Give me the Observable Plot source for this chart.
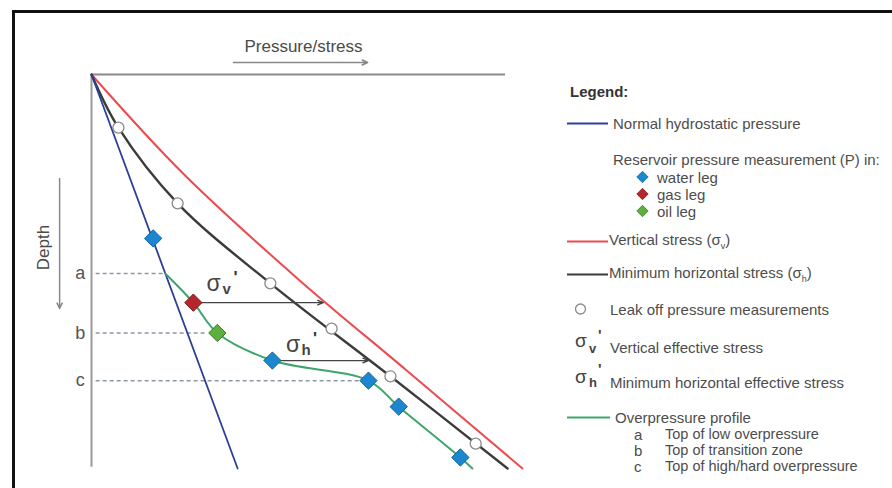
<!DOCTYPE html>
<html>
<head>
<meta charset="utf-8">
<script src="https://cdn.jsdelivr.net/npm/d3@7"></script>
<script src="https://cdn.jsdelivr.net/npm/@observablehq/plot@0.6"></script>
<style>
  html, body { margin: 0; padding: 0; background: #fff; overflow: hidden; }
  body { width: 892px; height: 488px; position: relative; font-family: "Liberation Sans", Arial, sans-serif; }
  #frame { position: absolute; left: 12px; top: 10px; width: 900px; height: 520px; border: 3px solid #111; box-sizing: border-box; }
  #chart { position: absolute; left: 0; top: 0; }
  #legend { position: absolute; left: 0; top: 0; width: 892px; height: 488px; }
  .row { position: absolute; display: flex; align-items: center; white-space: nowrap; font-size: 15px; line-height: 1; color: #4d4d4d; transform: translateY(-50%); }
  .row svg { display: block; }
  .sig { font-size: 19px; color: #444; }
  .sub { font-size: 13px; font-weight: bold; color: #444; }
</style>
</head>
<body>
<div id="frame"></div>
<div id="chart"></div>
<div id="legend"></div>
<script>
// ---------------- data (pressure / depth in schematic units, 0..100) ----------------
const hydroPressure = [0, 35.3];
const hydroDepth    = [0, 100];

const sigmaVPressure = [0, 22, 50, 76, 104.1];
const sigmaVDepth    = [0, 25, 52, 75, 100];

const sigmaHPressure = [0, 6.5, 20.8, 43.2, 72.2, 100.5];
const sigmaHDepth    = [0, 13.5, 32.7, 53, 76.6, 100];

const leakOffPressure = [6.5, 20.8, 43.2, 58.0, 72.2, 92.8];
const leakOffDepth    = [13.5, 32.7, 53.0, 64.5, 76.6, 93.7];

const overPressure      = [17.8, 24.6, 30.4, 43.7, 66.9, 74.2, 89.1, 92];
const overPressureDepth = [50.5, 57.9, 65.6, 72.6, 77.7, 84.3, 97.2, 100];

const waterPressure = [14.9, 43.7, 66.9, 74.2, 89.1];
const waterDepth    = [41.6, 72.6, 77.7, 84.3, 97.2];
const gasPressure   = [24.6];
const gasDepth      = [57.9];
const oilPressure   = [30.4];
const oilDepth      = [65.6];

const markerLabels   = ["a", "b", "c"];
const markerDepth    = [50.5, 65.6, 77.7];
const markerEnd      = [17.8, 27.8, 64.6];
const markerLabelPos = -2.7;

const effLabels     = ["v", "h"];
const effStart      = [24.6, 43.7];
const effEnd        = [56.0, 66.9];
const effDepth      = [57.9, 72.6];
const effLabelP     = [29.5, 48.7];
const effLabelD     = [53.0, 68.5];

const axisPressureMax = 100;
const axisDepthMax    = 99.7;

const xTitle = "Pressure/stress";
const xTitlePos = {p: 51.2, d: -7.1};
const xArrow = {p1: 34.3, p2: 66.7, d: -3.05};
const yTitle = "Depth";
const yTitlePos = {p: -11.6, d: 43.9};
const yArrow = {p: -7.7, d1: 26.4, d2: 59.4};

// ---------------- colours ----------------
const C = {
  hydro: "#2e3f97", sv: "#ec4a4f", sh: "#3b3b3b", over: "#3da56c",
  water: "#1c86cf", waterS: "#13649f", gas: "#b3272d", gasS: "#7a1a1e",
  oil: "#5cae3f", oilS: "#3b7d28", axis: "#8a8a8a", text: "#4a4a4a"
};

const zip = (ps, ds) => ps.map((p, i) => ({p, d: ds[i]}));
const hydro = zip(hydroPressure, hydroDepth);
const sv = zip(sigmaVPressure, sigmaVDepth);
const sh = zip(sigmaHPressure, sigmaHDepth);
const leak = zip(leakOffPressure, leakOffDepth);
const over = zip(overPressure, overPressureDepth);
const water = zip(waterPressure, waterDepth);
const gas = zip(gasPressure, gasDepth);
const oil = zip(oilPressure, oilDepth);
const markers = markerLabels.map((l, i) => ({label: l, d: markerDepth[i], end: markerEnd[i]}));
const eff = effLabels.map((l, i) => ({sub: l, p1: effStart[i], p2: effEnd[i], d: effDepth[i], lp: effLabelP[i], ld: effLabelD[i]}));

const chart = Plot.plot({
  width: 560,
  height: 488,
  margin: 0,
  x: {domain: [0, 100], range: [91, 505], axis: null},
  y: {domain: [0, 100], range: [74, 468], axis: null},
  style: {background: "transparent", fontFamily: "'Liberation Sans', Arial, sans-serif", overflow: "visible"},
  marks: [
    // frame axes
    Plot.ruleY([0], {x1: 0, x2: axisPressureMax, stroke: C.axis, strokeWidth: 2}),
    Plot.ruleX([0], {y1: 0, y2: axisDepthMax, stroke: "#9a9a9a", strokeWidth: 2}),
    // axis titles and arrows
    Plot.text([xTitlePos], {x: "p", y: "d", text: () => xTitle, fontSize: 17, fill: C.text}),
    Plot.arrow([xArrow], {x1: "p1", x2: "p2", y1: "d", y2: "d", stroke: "#888", strokeWidth: 1.5, headLength: 6, headAngle: 50}),
    Plot.text([yTitlePos], {x: "p", y: "d", text: () => yTitle, fontSize: 17, fill: C.text, rotate: -90}),
    Plot.arrow([yArrow], {x1: "p", x2: "p", y1: "d1", y2: "d2", stroke: "#888", strokeWidth: 1.5, headLength: 6, headAngle: 50}),
    // depth markers
    Plot.link(markers, {x1: () => 1, x2: "end", y1: "d", y2: "d", stroke: "#8d96a6", strokeWidth: 1.5, strokeDasharray: "4,3"}),
    Plot.text(markers, {x: () => markerLabelPos, y: "d", text: "label", fontSize: 18, fill: "#555"}),
    // stress lines
    Plot.line(sv, {x: "p", y: "d", stroke: C.sv, strokeWidth: 2, curve: "catmull-rom"}),
    Plot.line(sh, {x: "p", y: "d", stroke: C.sh, strokeWidth: 2.4, curve: "catmull-rom"}),
    Plot.line(hydro, {x: "p", y: "d", stroke: C.hydro, strokeWidth: 1.8}),
    Plot.line(over, {x: "p", y: "d", stroke: C.over, strokeWidth: 2, curve: "catmull-rom"}),
    // effective stress arrows
    Plot.arrow(eff, {x1: "p1", x2: "p2", y1: "d", y2: "d", stroke: "#444", strokeWidth: 1.3, headLength: 7, headAngle: 45}),
    Plot.text(eff, {x: "lp", y: "ld", text: () => "σ", fontSize: 23, fill: "#444"}),
    Plot.text(eff, {x: "lp", y: "ld", text: "sub", fontSize: 15, fontWeight: "bold", fill: "#444", dx: 13, dy: 6}),
    Plot.text(eff, {x: "lp", y: "ld", text: () => "'", fontSize: 17, fontWeight: "bold", fill: "#333", dx: 22, dy: -6}),
    // leak off measurements
    Plot.dot(leak, {x: "p", y: "d", r: 5.5, stroke: "#8a8a8a", fill: "white", strokeWidth: 1.3}),
    // reservoir pressures
    Plot.dot(water, {x: "p", y: "d", symbol: "diamond2", r: 7.8, fill: C.water, stroke: C.waterS, strokeWidth: 1}),
    Plot.dot(gas, {x: "p", y: "d", symbol: "diamond2", r: 7.8, fill: C.gas, stroke: C.gasS, strokeWidth: 1}),
    Plot.dot(oil, {x: "p", y: "d", symbol: "diamond2", r: 7.8, fill: C.oil, stroke: C.oilS, strokeWidth: 1})
  ]
});
document.getElementById("chart").appendChild(chart);

// ---------------- legend (HTML, right side) ----------------
const legend = document.getElementById("legend");
function addRow(top, left, html, style = "") {
  const el = document.createElement("div");
  el.className = "row";
  el.style.top = top + "px";
  el.style.left = left + "px";
  if (style) el.style.cssText += style;
  el.innerHTML = html;
  legend.appendChild(el);
}
const lineSw = (color, w = 41) => `<svg width="${w}" height="6"><line x1="0" x2="${w}" y1="3" y2="3" stroke="${color}" stroke-width="2.2"/></svg>`;
const diamondSw = (fill, stroke) => `<svg width="13" height="13"><path d="M6.5 0.8L12.2 6.5L6.5 12.2L0.8 6.5Z" fill="${fill}" stroke="${stroke}" stroke-width="0.8"/></svg>`;
const circleSw = `<svg width="13" height="13"><circle cx="6.5" cy="6.5" r="5" fill="white" stroke="#8a8a8a" stroke-width="1.3"/></svg>`;

addRow(91, 570, `<b style="color:#333">Legend:</b>`);
addRow(123, 567, lineSw(C.hydro) + `<span style="margin-left:5px">Normal hydrostatic pressure</span>`);
addRow(159, 613, `Reservoir pressure measurement (P) in:`);
addRow(177, 636, diamondSw(C.water, C.waterS) + `<span style="margin-left:8px">water leg</span>`);
addRow(194, 636, diamondSw(C.gas, C.gasS) + `<span style="margin-left:8px">gas leg</span>`);
addRow(211, 636, diamondSw(C.oil, C.oilS) + `<span style="margin-left:8px">oil leg</span>`);
addRow(241, 567, lineSw(C.sv) + `<span style="margin-left:1px">Vertical stress (σ<sub style="font-size:9px">v</sub>)</span>`);
addRow(274, 567, lineSw(C.sh) + `<span style="margin-left:1px">Minimum horizontal stress (σ<sub style="font-size:9px">h</sub>)</span>`);
addRow(309, 574, circleSw + `<span style="margin-left:23px">Leak off pressure measurements</span>`);
// effective stress symbols
addRow(340, 575, `<span class="sig">σ</span>`);
addRow(348, 589, `<span class="sub">v</span>`);
addRow(334, 598, `<span class="sub" style="font-size:15px">'</span>`);
addRow(347, 610, `Vertical effective stress`);
addRow(376, 575, `<span class="sig">σ</span>`);
addRow(382, 589, `<span class="sub">h</span>`);
addRow(368, 598, `<span class="sub" style="font-size:15px">'</span>`);
addRow(382, 610, `Minimum horizontal effective stress`);
addRow(417, 567, lineSw(C.over, 43) + `<span style="margin-left:5px">Overpressure profile</span>`);
const abc = [["a", "Top of low overpressure", 434], ["b", "Top of transition zone", 450], ["c", "Top of high/hard overpressure", 466]];
for (const [l, t, y] of abc) {
  addRow(y, 634, `<span style="font-size:15px;width:31px;display:inline-block">${l}</span><span style="font-size:14.5px">${t}</span>`);
}
</script>
</body>
</html>
